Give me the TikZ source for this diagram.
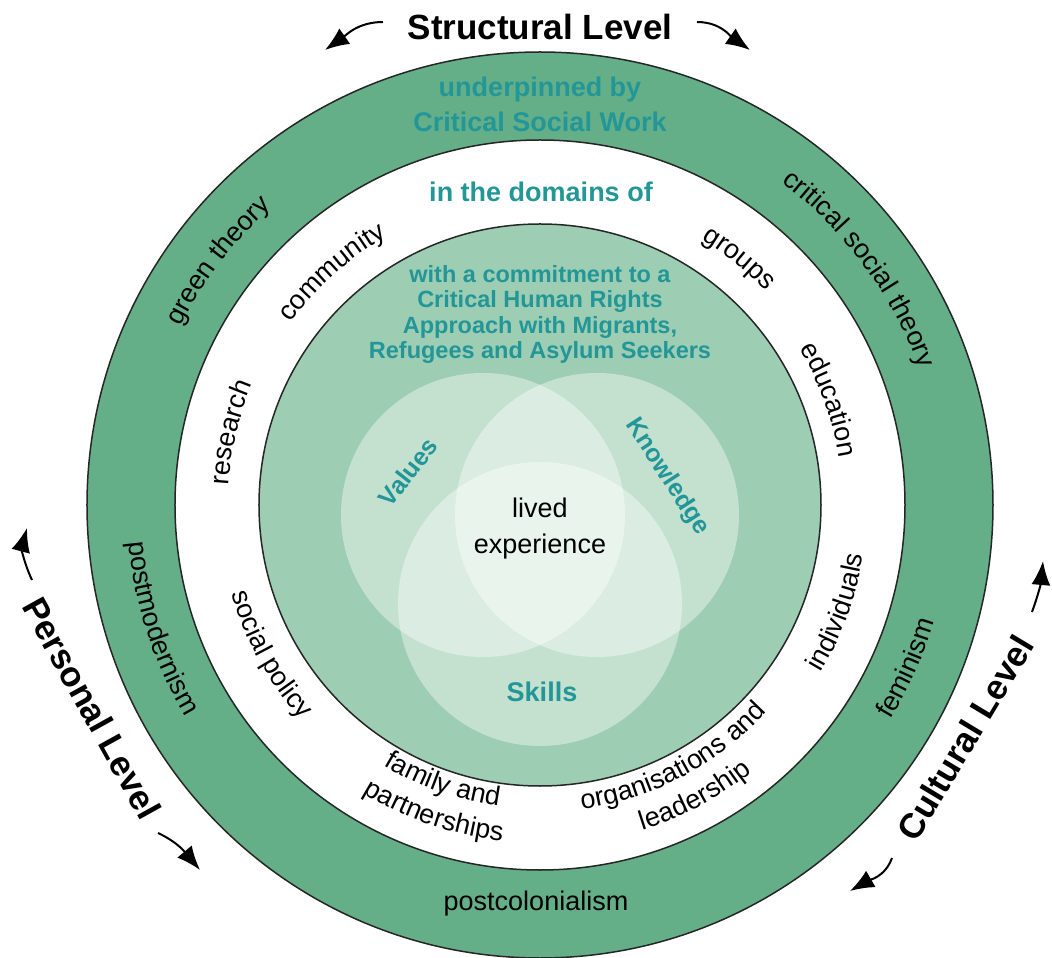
\documentclass[tikz,border=0pt]{standalone}
\usepackage{fontspec}
\setmainfont{Liberation Sans}
\usetikzlibrary{arrows.meta, decorations.text}

\definecolor{ringgreen}{RGB}{100,175,135}
\definecolor{discgreen}{RGB}{157,205,178}
\definecolor{tealtext}{RGB}{35,150,152}

\newcommand{\ringfont}{\fontsize{27}{32}\selectfont}
% text on an arc, letters pointing outwards
\newcommand{\cwlabel}[3]{%
  \path[decorate, decoration={text along path, text align=center, text={|\ringfont|#3}}]
    ({#2+45}:#1) arc[start angle=#2+45, end angle=#2-45, radius=#1];}
% text on an arc, letters pointing inwards
\newcommand{\ccwlabel}[3]{%
  \path[decorate, decoration={text along path, text align=center, text={|\ringfont|#3}}]
    ({#2-45}:#1) arc[start angle=#2-45, end angle=#2+45, radius=#1];}

\begin{document}
\begin{tikzpicture}[x=1pt, y=1pt,
  ring/.style={line width=1.5pt, draw=black!85},
  venn/.style={fill=white, fill opacity=0.4},
  teal label/.style={text=tealtext, font=\bfseries\fontsize{27}{35}\selectfont, inner sep=0pt},
  level/.style={font=\bfseries\fontsize{35}{40}\selectfont, inner sep=0pt},
  level arrow/.style={line width=2pt, -{Latex[length=24pt, width=19pt]}}]
  \useasboundingbox (-540,-453) rectangle (512,505);

  % Rings
  \draw[ring, fill=ringgreen] (0,0) circle[radius=453];
  \draw[ring, fill=white] (0,0) circle[radius=365];
  \draw[ring, fill=discgreen] (0,0) circle[radius=281];

  % Venn circles
  \fill[venn] (-57,-10) circle[radius=142];
  \fill[venn] (57,-10) circle[radius=142];
  \fill[venn] (0,-99) circle[radius=142];

  % Levels
  \node[level, anchor=base] (structural) at (0,465) {Structural Level};
  \node[level, rotate=-61] (personal) at (-448,-203) {Personal Level};
  \node[level, rotate=59] (cultural) at (425,-233) {Cultural Level};

  % Level arrows
  \coordinate (sl1) at (-157,483);  \coordinate (sl2) at (-215,455);
  \coordinate (sr1) at (157,483);   \coordinate (sr2) at (210,455);
  \coordinate (pt1) at (-508,-75);  \coordinate (pt2) at (-513,-23);
  \coordinate (pb1) at (-382,-328); \coordinate (pb2) at (-340,-365);
  \coordinate (ct1) at (492,-107);  \coordinate (ct2) at (503,-56);
  \coordinate (cb1) at (352,-353);  \coordinate (cb2) at (310,-386);
  \draw[level arrow] (sl1) to[out=180, in=35] (sl2);
  \draw[level arrow] (sr1) to[out=0, in=145] (sr2);
  \draw[level arrow] (pt1) to[out=115, in=255] (pt2);
  \draw[level arrow] (pb1) to[out=-25, in=130] (pb2);
  \draw[level arrow] (ct1) to[out=70, in=265] (ct2);
  \draw[level arrow] (cb1) to[out=250, in=30] (cb2);

  % Outer ring
  \node[teal label, anchor=base] (under1) at (0,408) {underpinned by};
  \node[teal label, anchor=base] (under2) at (0,373) {Critical Social Work};
  \cwlabel{401}{142.8}{green theory}
  \cwlabel{403}{36.5}{critical social theory}
  \ccwlabel{413}{198}{postmodernism}
  \ccwlabel{411}{-24}{feminism}
  \node[font=\ringfont, anchor=base, inner sep=0pt] (postcol) at (-4,-405) {postcolonialism};

  % Domains ring
  \node[teal label, anchor=base] (domains) at (1,303) {in the domains of};
  \cwlabel{309}{131.8}{community}
  \cwlabel{311}{51.1}{groups}
  \cwlabel{312}{166.8}{research}
  \cwlabel{303}{20}{education}
  \ccwlabel{321}{209}{social policy}
  \ccwlabel{327}{-19.8}{individuals}
  \ccwlabel{304}{250.6}{family and}
  \ccwlabel{338}{251}{partnerships}
  \ccwlabel{307}{-62.3}{organisations and}
  \ccwlabel{341}{-62}{leadership}

  % Inner disc
  \node[teal label, font=\bfseries\fontsize{23.5}{25.5}\selectfont, align=center, anchor=north] (commit) at (0,240)
    {with a commitment to a\\Critical Human Rights\\Approach with Migrants,\\Refugees and Asylum Seekers};
  \node[teal label, font=\bfseries\fontsize{25}{30}\selectfont, rotate=52] (values) at (-132,33) {Values};
  \node[teal label, font=\bfseries\fontsize{25}{30}\selectfont, rotate=-57] (knowledge) at (127,28) {Knowledge};
  \node[teal label] (skills) at (2,-187) {Skills};
  \node[font=\fontsize{27}{36}\selectfont, align=center, inner sep=0pt] (lived) at (0,-24) {lived\\experience};
\end{tikzpicture}
\end{document}
